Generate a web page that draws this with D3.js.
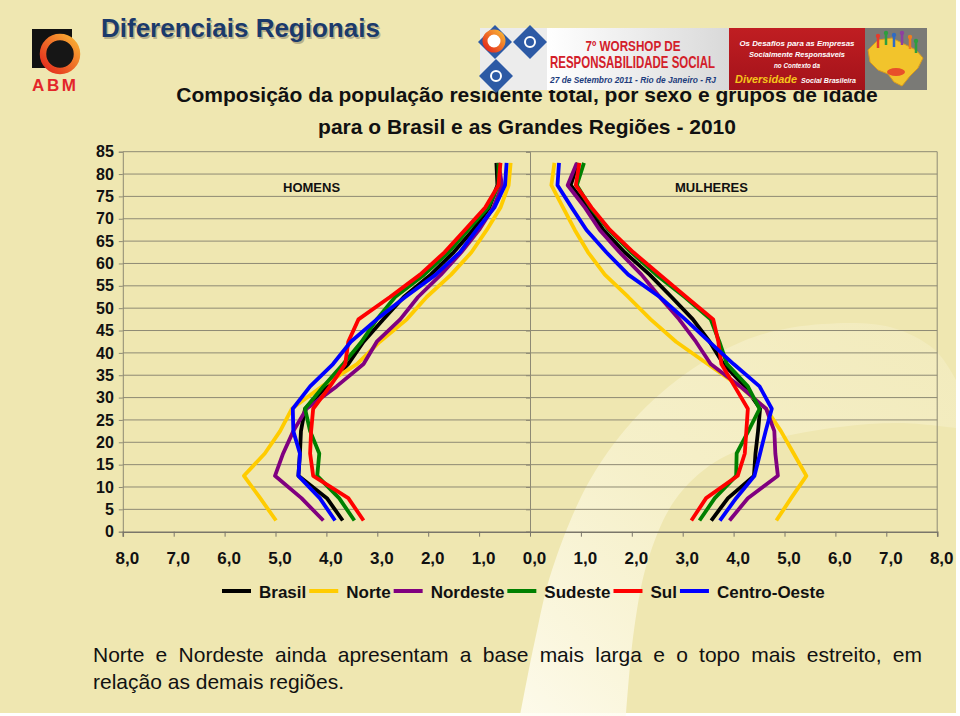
<!DOCTYPE html>
<html><head><meta charset="utf-8">
<script src="https://cdn.jsdelivr.net/npm/d3@7/dist/d3.min.js"></script>
<style>html,body{margin:0;padding:0;background:#fff;}svg{display:block;font-family:"Liberation Sans",Arial,Helvetica,sans-serif;}</style>
</head><body>
<svg id="c" width="960" height="716"></svg>
<script>
// ---------- DATA ----------
const ages = [2.5, 7.5, 12.5, 17.5, 22.5, 27.5, 32.5, 37.5, 42.5, 47.5, 52.5, 57.5, 62.5, 67.5, 72.5, 77.5, 82.5];
const seriesNames = ["Brasil", "Norte", "Nordeste", "Sudeste", "Sul", "Centro-Oeste"];
const seriesColors = ["#000000", "#FFCC00", "#800080", "#008000", "#FF0000", "#0000FF"];

// HOMENS (% of total population)
const menBrasil      = [3.68, 3.99, 4.55, 4.52, 4.50, 4.42, 3.99, 3.57, 3.27, 2.88, 2.48, 1.95, 1.50, 1.12, 0.80, 0.64, 0.66];
const menNorte       = [4.99, 5.30, 5.62, 5.21, 4.91, 4.68, 4.09, 3.40, 2.95, 2.42, 2.03, 1.55, 1.15, 0.85, 0.58, 0.42, 0.38];
const menNordeste    = [4.06, 4.49, 5.01, 4.85, 4.65, 4.39, 3.80, 3.27, 3.01, 2.55, 2.20, 1.75, 1.35, 1.00, 0.72, 0.55, 0.62];
const menSudeste     = [3.45, 3.75, 4.18, 4.14, 4.32, 4.42, 4.06, 3.67, 3.31, 3.01, 2.65, 2.08, 1.60, 1.22, 0.82, 0.62, 0.62];
const menSul         = [3.27, 3.57, 4.26, 4.32, 4.30, 4.26, 3.93, 3.63, 3.57, 3.37, 2.75, 2.16, 1.68, 1.28, 0.88, 0.62, 0.58];
const menCentroOeste = [3.83, 4.13, 4.55, 4.52, 4.65, 4.66, 4.32, 3.87, 3.52, 3.01, 2.45, 1.85, 1.38, 1.05, 0.70, 0.49, 0.46];

// MULHERES
const womenBrasil      = [3.56, 3.89, 4.40, 4.43, 4.48, 4.52, 4.22, 3.80, 3.53, 3.20, 2.78, 2.35, 1.86, 1.44, 1.14, 0.80, 0.94];
const womenNorte       = [4.84, 5.13, 5.43, 5.18, 4.93, 4.64, 4.12, 3.49, 2.87, 2.37, 1.93, 1.47, 1.14, 0.88, 0.65, 0.42, 0.48];
const womenNordeste    = [3.92, 4.28, 4.87, 4.82, 4.80, 4.64, 4.13, 3.55, 3.26, 2.93, 2.55, 2.19, 1.76, 1.37, 1.08, 0.74, 0.92];
const womenSudeste     = [3.33, 3.63, 4.05, 4.06, 4.29, 4.51, 4.28, 3.87, 3.72, 3.55, 3.04, 2.48, 1.99, 1.55, 1.19, 0.92, 1.06];
const womenSul         = [3.17, 3.46, 4.08, 4.22, 4.25, 4.28, 4.02, 3.76, 3.70, 3.60, 3.07, 2.55, 2.03, 1.57, 1.21, 0.90, 0.97];
const womenCentroOeste = [3.73, 4.05, 4.41, 4.52, 4.63, 4.75, 4.51, 4.00, 3.52, 3.05, 2.55, 1.93, 1.50, 1.11, 0.82, 0.54, 0.57];

const yTicks = [0, 5, 10, 15, 20, 25, 30, 35, 40, 45, 50, 55, 60, 65, 70, 75, 80, 85];
const xTicks = [-8, -7, -6, -5, -4, -3, -2, -1, 0, 1, 2, 3, 4, 5, 6, 7, 8];

const menSeries = [menBrasil, menNorte, menNordeste, menSudeste, menSul, menCentroOeste];
const womenSeries = [womenBrasil, womenNorte, womenNordeste, womenSudeste, womenSul, womenCentroOeste];

// ---------- SETUP ----------
const svg = d3.select("#c");
const FONT = '"Liberation Sans",Arial,Helvetica,sans-serif';
const BG = "#EFE7B1";
const GRID = "#8E8A74";

const defs = svg.append("defs");
const band = defs.append("linearGradient").attr("id","bandGrad").attr("gradientUnits","userSpaceOnUse")
  .attr("x1",540).attr("y1",716).attr("x2",930).attr("y2",330);
band.append("stop").attr("offset",0).attr("stop-color","#FFFDF2").attr("stop-opacity",0.85);
band.append("stop").attr("offset",0.45).attr("stop-color","#FBF7DD").attr("stop-opacity",0.55);
band.append("stop").attr("offset",1).attr("stop-color","#F6F0CC").attr("stop-opacity",0.45);
const ring = defs.append("linearGradient").attr("id","ringGrad").attr("x1",1).attr("y1",0).attr("x2",0).attr("y2",1);
ring.append("stop").attr("offset",0).attr("stop-color","#F9B233");
ring.append("stop").attr("offset",1).attr("stop-color","#E3261C");
const wp = defs.append("linearGradient").attr("id","whitePanel").attr("x1",0).attr("y1",0).attr("x2",1).attr("y2",0);
wp.append("stop").attr("offset",0).attr("stop-color","#FFFFFF");
wp.append("stop").attr("offset",1).attr("stop-color","#D9D9D9");
const rp = defs.append("linearGradient").attr("id","redPanel").attr("x1",0).attr("y1",0).attr("x2",0).attr("y2",1);
rp.append("stop").attr("offset",0).attr("stop-color","#C01E22");
rp.append("stop").attr("offset",1).attr("stop-color","#A3121A");

// background
svg.append("rect").attr("width",960).attr("height",716).attr("fill","#FFFFFF");
svg.append("rect").attr("x",0).attr("y",0).attr("width",956).attr("height",713).attr("fill",BG);

// light crescent band
const outerPts = [[520,716],[535,640],[552,570],[590,480],[640,413],[700,364],[757,336],[823,324],[890,327],[935,350],[956,380]];
const innerPts = [[956,428],[900,423],[840,427],[770,440],[715,462],[675,500],[648,560],[634,630],[626,716]];
const curve = d3.line().curve(d3.curveCatmullRom);
const oc = curve(outerPts), ic = curve(innerPts);
const bandPath = "M" + outerPts[0].join(",") + oc.slice(oc.indexOf("C")) +
  "L" + innerPts[0].join(",") + ic.slice(ic.indexOf("C")) + "Z";
svg.append("path").attr("d", bandPath).attr("fill","url(#bandGrad)");

// ---------- HEADER ----------
const logo = svg.append("g");
logo.append("rect").attr("x",32).attr("y",29).attr("width",40).attr("height",39).attr("fill","#111");
logo.append("circle").attr("cx",60).attr("cy",54).attr("r",17).attr("fill","#161616")
  .attr("stroke","url(#ringGrad)").attr("stroke-width",6.5);
logo.append("text").attr("x",32).attr("y",90.5).text("ABM")
  .attr("font-size",17).attr("font-weight","bold").attr("fill","#E3262A").attr("letter-spacing",2.6);

svg.append("text").attr("x",102.5).attr("y",38.5).text("Diferenciais Regionais")
  .attr("font-size",26).attr("font-weight","bold").attr("fill","#B8B08A");
svg.append("text").attr("x",101).attr("y",37).text("Diferenciais Regionais")
  .attr("font-size",26).attr("font-weight","bold").attr("fill","#1B3A6B");

svg.append("text").attr("x",527).attr("y",102).attr("text-anchor","middle")
  .text("Composição da população residente total, por sexo e grupos de idade")
  .attr("font-size",21).attr("font-weight","bold").attr("fill","#111");
svg.append("text").attr("x",527).attr("y",134).attr("text-anchor","middle")
  .text("para o Brasil e as Grandes Regiões - 2010")
  .attr("font-size",21).attr("font-weight","bold").attr("fill","#111");

// banner (drawn over the title, as in the slide)
const bn = svg.append("g");
bn.append("rect").attr("x",480).attr("y",28).attr("width",68).attr("height",62).attr("fill","#ECECEC");
[[495,42],[530,42],[496,76]].forEach(([cx,cy])=>{
  bn.append("rect").attr("x",cx-12).attr("y",cy-12).attr("width",24).attr("height",24)
    .attr("transform",`rotate(45 ${cx} ${cy})`).attr("fill","#2D5AA5");
  bn.append("circle").attr("cx",cx).attr("cy",cy).attr("r",5).attr("fill","none").attr("stroke","#fff").attr("stroke-width",2);
});
bn.append("circle").attr("cx",494).attr("cy",41).attr("r",9).attr("fill","#fff").attr("stroke","url(#ringGrad)").attr("stroke-width",5);
bn.append("rect").attr("x",547).attr("y",28).attr("width",182).attr("height",62).attr("fill","url(#whitePanel)");
bn.append("text").attr("x",633).attr("y",50.5).attr("text-anchor","middle").text("7º WORSHOP DE")
  .attr("font-size",15).attr("font-weight","bold").attr("fill","#D3202A").attr("textLength",95).attr("lengthAdjust","spacingAndGlyphs");
bn.append("text").attr("x",632.5).attr("y",68).attr("text-anchor","middle").text("RESPONSABILIDADE SOCIAL")
  .attr("font-size",17).attr("font-weight","bold").attr("fill","#D3202A").attr("textLength",165).attr("lengthAdjust","spacingAndGlyphs");
bn.append("text").attr("x",633).attr("y",83).attr("text-anchor","middle").text("27 de Setembro 2011 - Rio de Janeiro - RJ")
  .attr("font-size",8.5).attr("font-weight","bold").attr("font-style","italic").attr("fill","#1C3C7C")
  .attr("textLength",166).attr("lengthAdjust","spacingAndGlyphs");
bn.append("rect").attr("x",729).attr("y",28).attr("width",136).attr("height",62).attr("fill","url(#redPanel)");
const rt = [["Os Desafios para as Empresas",45.5,115],["Socialmente Responsáveis",56.5,96],["no Contexto da",67.5,46]];
rt.forEach(([t,yy,w])=>bn.append("text").attr("x",797).attr("y",yy).attr("text-anchor","middle").text(t)
  .attr("font-size",7).attr("font-weight","bold").attr("font-style","italic").attr("fill","#fff")
  .attr("textLength",w).attr("lengthAdjust","spacingAndGlyphs"));
bn.append("text").attr("x",735).attr("y",82.5).text("Diversidade")
  .attr("font-size",10.5).attr("font-weight","bold").attr("font-style","italic").attr("fill","#F6C51B")
  .attr("textLength",62).attr("lengthAdjust","spacingAndGlyphs");
bn.append("text").attr("x",801).attr("y",82.5).text("Social Brasileira")
  .attr("font-size",7).attr("font-weight","bold").attr("font-style","italic").attr("fill","#fff")
  .attr("textLength",55).attr("lengthAdjust","spacingAndGlyphs");
bn.append("rect").attr("x",865).attr("y",28).attr("width",62).attr("height",62).attr("fill","#7A7A76");
bn.append("path").attr("d","M868,50 L878,40 L892,38 L904,44 L916,50 L923,58 L918,68 L910,76 L902,86 L894,82 L888,74 L878,70 L870,62 Z")
  .attr("fill","#F2C42C").attr("stroke","#D89A1E").attr("stroke-width",1);
[["#E53B2C",878,36],["#2E9E3E",886,33],["#2F6BC4",894,35],["#8E3FA0",902,33],["#F07C1E",910,37],["#2E9E3E",916,41]].forEach(([c,cx,cy])=>{
  bn.append("circle").attr("cx",cx).attr("cy",cy).attr("r",2.2).attr("fill",c);
  bn.append("line").attr("x1",cx).attr("y1",cy+2).attr("x2",cx).attr("y2",cy+12).attr("stroke",c).attr("stroke-width",2.5);
});
bn.append("ellipse").attr("cx",896).attr("cy",72).attr("rx",9).attr("ry",4).attr("fill","#E8502A");

// ---------- PLOT ----------
const xL = d3.scaleLinear().domain([8,0]).range([122.8,530]);
const xR = d3.scaleLinear().domain([0,8]).range([530,937.2]);
const xAll = d3.scaleLinear().domain([-8,8]).range([122.8,937.2]);
const y = d3.scaleLinear().domain([0,85]).range([531.7,151.7]);

const plot = svg.append("g");
plot.append("g").selectAll("line").data(yTicks.filter(t=>t>0)).join("line")
  .attr("x1",122.8).attr("x2",937.2).attr("y1",d=>y(d)).attr("y2",d=>y(d))
  .attr("stroke",GRID).attr("stroke-width",1);
plot.append("line").attr("x1",937.2).attr("x2",937.2).attr("y1",y(85)).attr("y2",y(0)).attr("stroke",GRID);

const yAxisL = plot.append("g").attr("transform","translate(122.8,0)")
  .call(d3.axisLeft(y).tickValues(yTicks).tickSize(4).tickPadding(5));
const yAxisC = plot.append("g").attr("transform","translate(530,0)")
  .call(d3.axisLeft(y).tickValues(yTicks).tickSize(4).tickFormat(""));
[yAxisL,yAxisC].forEach(g=>{
  g.select(".domain").attr("stroke",GRID);
  g.selectAll(".tick line").attr("stroke",GRID);
});
yAxisL.selectAll("text").attr("font-family",FONT).attr("font-size",16).attr("font-weight","bold").attr("fill","#111");

const xAxis = plot.append("g").attr("transform","translate(0,531.7)")
  .call(d3.axisBottom(xAll).tickValues(xTicks).tickSize(5).tickPadding(15)
    .tickFormat(d=>Math.abs(d).toFixed(1).replace(".",",")));
xAxis.select(".domain").attr("stroke","#7A766A").attr("stroke-width",1.5);
xAxis.selectAll(".tick line").attr("stroke","#7A766A");
xAxis.selectAll("text").attr("font-family",FONT).attr("font-size",17).attr("font-weight","bold").attr("fill","#111").attr("dx",4);

plot.append("text").attr("x",283).attr("y",191.5).text("HOMENS").attr("font-size",13).attr("font-weight","bold").attr("fill","#111");
plot.append("text").attr("x",675).attr("y",191.5).text("MULHERES").attr("font-size",13).attr("font-weight","bold").attr("fill","#111");

const lineL = d3.line().x(d=>xL(d.v)).y(d=>y(d.a));
const lineR = d3.line().x(d=>xR(d.v)).y(d=>y(d.a));
const linesG = plot.append("g").attr("fill","none").attr("stroke-width",3.8).attr("stroke-linejoin","round");
seriesNames.forEach((name,i)=>{
  linesG.append("path").datum(menSeries[i].map((v,k)=>({a:ages[k],v})))
    .attr("d",lineL).attr("stroke",seriesColors[i]);
  linesG.append("path").datum(womenSeries[i].map((v,k)=>({a:ages[k],v})))
    .attr("d",lineR).attr("stroke",seriesColors[i]);
});

// ---------- LEGEND ----------
const lg = svg.append("g");
let lx = 222;
seriesNames.forEach((name,i)=>{
  lg.append("line").attr("x1",lx).attr("x2",lx+29).attr("y1",591).attr("y2",591)
    .attr("stroke",seriesColors[i]).attr("stroke-width",4);
  const t = lg.append("text").attr("x",lx+37).attr("y",598).text(name)
    .attr("font-size",17).attr("font-weight","bold").attr("fill","#111");
  lx = lx + 37 + t.node().getComputedTextLength() + 3;
});

// ---------- FOOTNOTE ----------
const line1 = "Norte e Nordeste ainda apresentam a base mais larga e o topo mais estreito, em";
const line2 = "relação as demais regiões.";
const ft = svg.append("g").attr("font-size",21).attr("fill","#111");
const words = line1.split(" ");
const wNodes = words.map(w=>ft.append("text").attr("y",662).text(w));
const widths = wNodes.map(n=>n.node().getComputedTextLength());
const total = d3.sum(widths);
const gap = (922 - 93 - total) / (words.length - 1);
let fx = 93;
wNodes.forEach((n,k)=>{ n.attr("x",fx); fx += widths[k] + gap; });
ft.append("text").attr("x",93).attr("y",689).text(line2);
</script>
</body></html>
